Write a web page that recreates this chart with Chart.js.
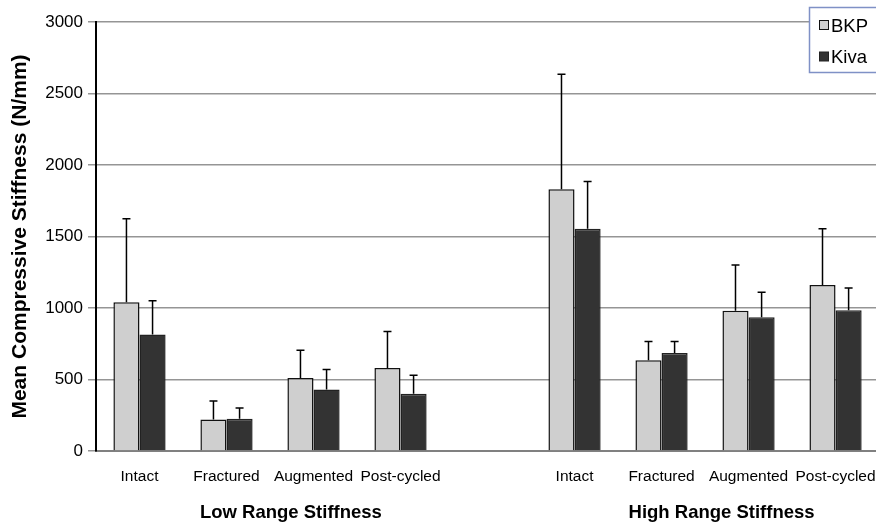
<!DOCTYPE html>
<html>
<head>
<meta charset="utf-8">
<script src="https://cdn.jsdelivr.net/npm/chart.js@4/dist/chart.umd.min.js"></script>
<style>
  html, body { margin: 0; padding: 0; background: #fff; overflow: hidden; }
  #wrap { width: 876px; height: 524px; overflow: hidden; position: relative; }
  canvas { display: block; }
</style>
</head>
<body>
<div id="wrap"><canvas id="stiffnessChart" width="892" height="524"></canvas></div>
<script>
// Categories (index 4 is the empty gap between the two groups)
const categories = ['Intact', 'Fractured', 'Augmented', 'Post-cycled', '', 'Intact', 'Fractured', 'Augmented', 'Post-cycled'];
const groupNames = ['Low Range Stiffness', 'High Range Stiffness'];

// Mean stiffness (N/mm)
const bkpMean = [1040, 220, 510, 580, null, 1830, 635, 980, 1160];
const kivaMean = [815, 225, 430, 400, null, 1555, 685, 935, 985];
// Upper error (SD)
const bkpSd = [585, 130, 195, 255, null, 805, 130, 320, 395];
const kivaSd = [235, 75, 140, 130, null, 330, 80, 175, 155];

const yTicks = [0, 500, 1000, 1500, 2000, 2500, 3000];

Chart.defaults.font.family = '"Liberation Sans", Arial, sans-serif';
Chart.defaults.color = '#000';

// Error bars (upper whisker only)
const errorBars = {
    id: 'errorBars',
    afterDatasetsDraw(chart) {
        const ctx = chart.ctx;
        const y = chart.scales.y;
        ctx.save();
        ctx.strokeStyle = '#000';
        ctx.lineWidth = 1.5;
        chart.data.datasets.forEach((ds, di) => {
            const meta = chart.getDatasetMeta(di);
            meta.data.forEach((bar, i) => {
                const v = ds.data[i];
                const e = ds.sd[i];
                if (v == null || e == null) return;
                const yTop = y.getPixelForValue(v + e);
                ctx.beginPath();
                ctx.moveTo(bar.x, bar.y);
                ctx.lineTo(bar.x, yTop);
                ctx.moveTo(bar.x - 4, yTop);
                ctx.lineTo(bar.x + 4, yTop);
                ctx.stroke();
            });
        });
        ctx.restore();
    }
};

// Group labels under the category labels (centres in category units)
const groupLabels = {
    id: 'groupLabels',
    afterDraw(chart) {
        const ctx = chart.ctx;
        const x = chart.scales.x;
        const centres = [1.74, 6.69];
        ctx.save();
        ctx.font = 'bold 18.5px "Liberation Sans", Arial, sans-serif';
        ctx.fillStyle = '#000';
        ctx.textAlign = 'center';
        ctx.textBaseline = 'middle';
        groupNames.forEach((name, g) => {
            ctx.fillText(name, x.getPixelForValue(centres[g]), 513);
        });
        ctx.restore();
    }
};

// Boxed legend in the top right corner
const boxLegend = {
    id: 'boxLegend',
    afterDraw(chart) {
        const ctx = chart.ctx;
        ctx.save();
        ctx.fillStyle = '#fff';
        ctx.strokeStyle = '#7f91c6';
        ctx.lineWidth = 1.5;
        ctx.fillRect(809.5, 7.5, 100, 65);
        ctx.strokeRect(809.5, 7.5, 100, 65);
        ctx.font = '18.5px "Liberation Sans", Arial, sans-serif';
        ctx.textBaseline = 'middle';
        const rows = [25.5, 57];
        chart.data.datasets.forEach((ds, i) => {
            const cy = rows[i];
            ctx.fillStyle = ds.backgroundColor;
            ctx.fillRect(819.5, cy - 5, 9, 9);
            ctx.strokeStyle = ds.borderColor;
            ctx.lineWidth = 1;
            ctx.strokeRect(819.5, cy - 5, 9, 9);
            ctx.fillStyle = '#000';
            ctx.fillText(ds.label, 831, cy + 1);
        });
        ctx.restore();
    }
};

new Chart(document.getElementById('stiffnessChart').getContext('2d'), {
    type: 'bar',
    data: {
        labels: categories,
        datasets: [
            { label: 'BKP', data: bkpMean, sd: bkpSd, backgroundColor: '#cfcfcf', borderColor: '#111', borderWidth: 1.5 },
            { label: 'Kiva', data: kivaMean, sd: kivaSd, backgroundColor: '#333333', borderColor: '#222', borderWidth: 1.5 }
        ]
    },
    options: {
        responsive: false,
        animation: false,
        devicePixelRatio: 1,
        layout: { padding: { top: 22, right: 7, bottom: 0, left: 0 } },
        plugins: { legend: { display: false }, tooltip: { enabled: false } },
        datasets: { bar: { categoryPercentage: 0.6, barPercentage: 1.0 } },
        scales: {
            x: {
                grid: { display: false, drawTicks: false },
                border: { color: '#808080', width: 2 },
                ticks: { font: { size: 15.5 }, padding: 16, maxRotation: 0, autoSkip: false },
                afterFit(scale) { scale.height = 73; }
            },
            y: {
                min: 0,
                max: 3000,
                afterBuildTicks(scale) { scale.ticks = yTicks.map(v => ({ value: v })); },
                grid: { color: '#959595', lineWidth: 1.5, tickLength: 8 },
                border: { color: '#000', width: 2 },
                ticks: { font: { size: 17 }, padding: 5, callback: v => String(v) },
                title: {
                    display: true,
                    text: 'Mean Compressive Stiffness (N/mm)',
                    font: { size: 21, weight: 'bold' },
                    padding: { top: 8, bottom: 0 }
                },
                afterFit(scale) { scale.width = 96; }
            }
        }
    },
    plugins: [errorBars, groupLabels, boxLegend]
});
</script>
</body>
</html>
